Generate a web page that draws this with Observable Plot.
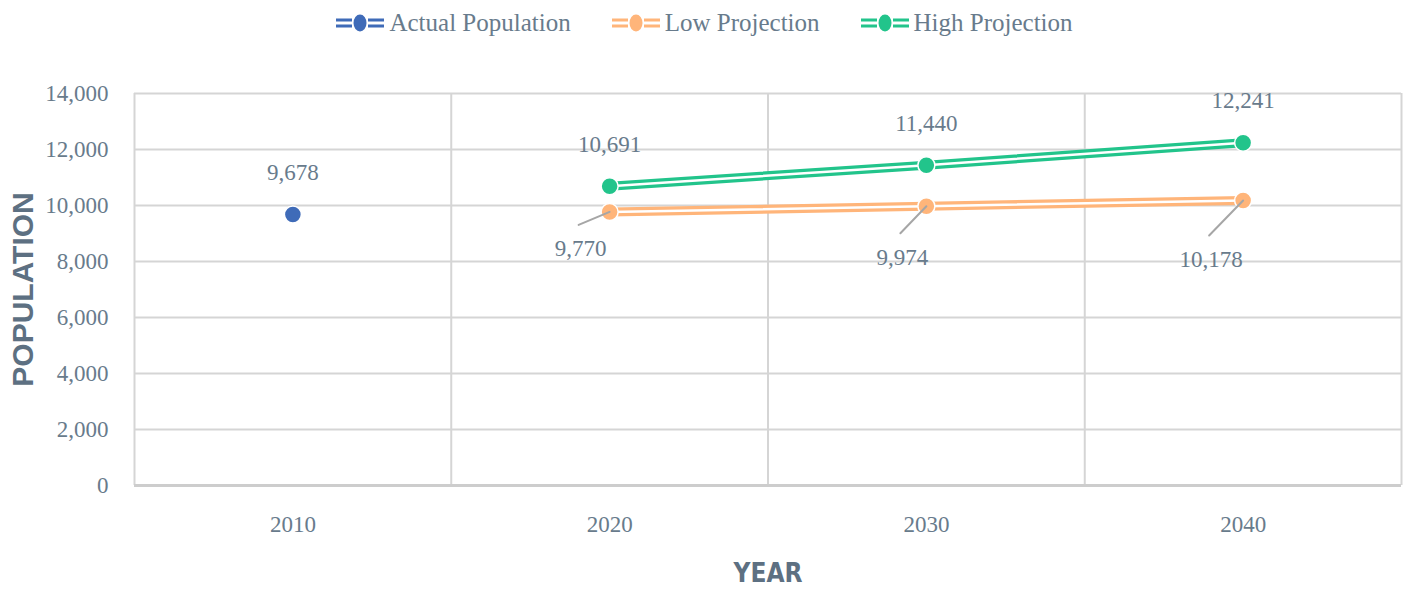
<!DOCTYPE html>
<html>
<head>
<meta charset="utf-8">
<script src="https://cdn.jsdelivr.net/npm/d3@7"></script>
<script src="https://cdn.jsdelivr.net/npm/@observablehq/plot@0.6"></script>
<style>
  html, body { margin: 0; padding: 0; background: #fff; }
  #legend { height: 50px; box-sizing: border-box; padding-bottom: 5px; display: flex; justify-content: center; align-items: center; gap: 40px;
    font-family: "Liberation Serif", "DejaVu Serif", serif; font-size: 25px; color: #687b8c; padding-left: 0px; }
  #legend .item { display: flex; align-items: center; gap: 4px; }
  #chart svg { display: block; }
</style>
</head>
<body>
<div id="legend"></div>
<div id="chart"></div>
<script>
// ---- data ----
const years = [2010, 2020, 2030, 2040];
const actualYears = [2010];
const actualValues = [9678];
const projYears = [2020, 2030, 2040];
const lowValues = [9770, 9974, 10178];
const highValues = [10691, 11440, 12241];
const yTicks = [0, 2000, 4000, 6000, 8000, 10000, 12000, 14000];
const seriesNames = ["Actual Population", "Low Projection", "High Projection"];

// ---- styles ----
const colors = {"Actual Population": "#3f6bb8", "Low Projection": "#ffb57a", "High Projection": "#22c48b"};
const textColor = "#687b8c";
const titleColor = "#5d7082";
const gridColor = "#d5d5d5";
const serif = "Liberation Serif, DejaVu Serif, serif";
// low label offsets in px (dx, dy) relative to the point
const lowLabelOffsets = [[-29, 37], [-24, 51], [-32, 59]];

const actual = actualYears.map((y, i) => ({year: y, value: actualValues[i], series: seriesNames[0]}));
const low = projYears.map((y, i) => ({year: y, value: lowValues[i], series: seriesNames[1], off: lowLabelOffsets[i]}));
const high = projYears.map((y, i) => ({year: y, value: highValues[i], series: seriesNames[2]}));

// band boundaries (category edges)
const step = years[1] - years[0];
const edges = years.map(y => y - step / 2).concat([years[years.length - 1] + step / 2]);

const fmt = d3.format(",");

// legend
const legend = document.getElementById("legend");
seriesNames.forEach(name => {
  const c = colors[name];
  const item = document.createElement("div");
  item.className = "item";
  item.innerHTML = `<svg width="50" height="20" viewBox="0 0 50 20">
      <line x1="1" x2="49" y1="7" y2="7" stroke="${c}" stroke-width="3"/>
      <line x1="1" x2="49" y1="13" y2="13" stroke="${c}" stroke-width="3"/>
      <rect x="17" y="0" width="16" height="20" fill="#fff"/>
      <ellipse cx="25" cy="10" rx="6.5" ry="8.5" fill="${c}"/>
    </svg><span>${name}</span>`;
  legend.appendChild(item);
});

const leaderShape = {draw(context, l) { context.moveTo(0, 0); context.lineTo(0, -l); }};

const lowLabelMarks = low.map(d => Plot.text([d], {
  x: "year", y: "value", text: d => fmt(d.value), dx: d.off[0], dy: d.off[1],
  fill: textColor, fontSize: 23, fontFamily: serif
}));

const plot = Plot.plot({
  width: 1408,
  height: 540,
  marginTop: 43,
  marginBottom: 105,
  marginLeft: 134,
  marginRight: 7,
  style: {fontFamily: serif, fontSize: "23px", color: textColor, background: "#fff"},
  length: {type: "identity"},
  x: {domain: [edges[0], edges[edges.length - 1]], ticks: years, tickFormat: d => String(d), tickSize: 0, tickPadding: 30, label: null},
  y: {domain: [0, 14000], ticks: yTicks, tickFormat: fmt, tickSize: 0, tickPadding: 26, label: null},
  marks: [
    Plot.ruleY(yTicks, {stroke: gridColor, strokeWidth: 2}),
    Plot.ruleX(edges, {stroke: gridColor, strokeWidth: 2}),
    Plot.ruleY([0], {stroke: "#cdcdcd", strokeWidth: 3}),
    // double lines
    Plot.line(low, {x: "year", y: "value", stroke: colors[seriesNames[1]], strokeWidth: 9}),
    Plot.line(low, {x: "year", y: "value", stroke: "#fff", strokeWidth: 2.5}),
    Plot.line(high, {x: "year", y: "value", stroke: colors[seriesNames[2]], strokeWidth: 9}),
    Plot.line(high, {x: "year", y: "value", stroke: "#fff", strokeWidth: 2.5}),
    // points
    Plot.dot(actual, {x: "year", y: "value", r: 8.5, fill: colors[seriesNames[0]], stroke: "#fff", strokeWidth: 1.5}),
    Plot.dot(low, {x: "year", y: "value", r: 8.5, fill: colors[seriesNames[1]], stroke: "#fff", strokeWidth: 1.5}),
    Plot.dot(high, {x: "year", y: "value", r: 8.5, fill: colors[seriesNames[2]], stroke: "#fff", strokeWidth: 1.5}),
    // leader lines for low labels
    Plot.vector(low, {
      x: "year", y: "value", anchor: "start", shape: leaderShape,
      length: d => Math.hypot(d.off[0] - 2, d.off[1] - 24),
      rotate: d => Math.atan2(d.off[0] - 2, -(d.off[1] - 24)) * 180 / Math.PI,
      stroke: "#a6a6a6", strokeWidth: 2
    }),
    // labels
    Plot.text(actual, {x: "year", y: "value", text: d => fmt(d.value), dy: -42, fill: textColor, fontSize: 23, fontFamily: serif}),
    Plot.text(high, {x: "year", y: "value", text: d => fmt(d.value), dy: -42, fill: textColor, fontSize: 23, fontFamily: serif}),
    ...lowLabelMarks,
    // axis titles
    Plot.text(["POPULATION"], {frameAnchor: "left", textAnchor: "middle", lineAnchor: "middle", dx: -111, rotate: -90, fontWeight: "bold", fontSize: 30, fill: titleColor, fontFamily: "Liberation Sans, Arial, sans-serif"}),
    Plot.text(["YEAR"], {frameAnchor: "bottom", textAnchor: "middle", lineAnchor: "middle", dy: 88, fontWeight: "bold", fontSize: 26, fill: titleColor, fontFamily: "Liberation Sans Narrow, DejaVu Sans Condensed, Liberation Sans, sans-serif"})
  ]
});
document.getElementById("chart").appendChild(plot);
</script>
</body>
</html>
